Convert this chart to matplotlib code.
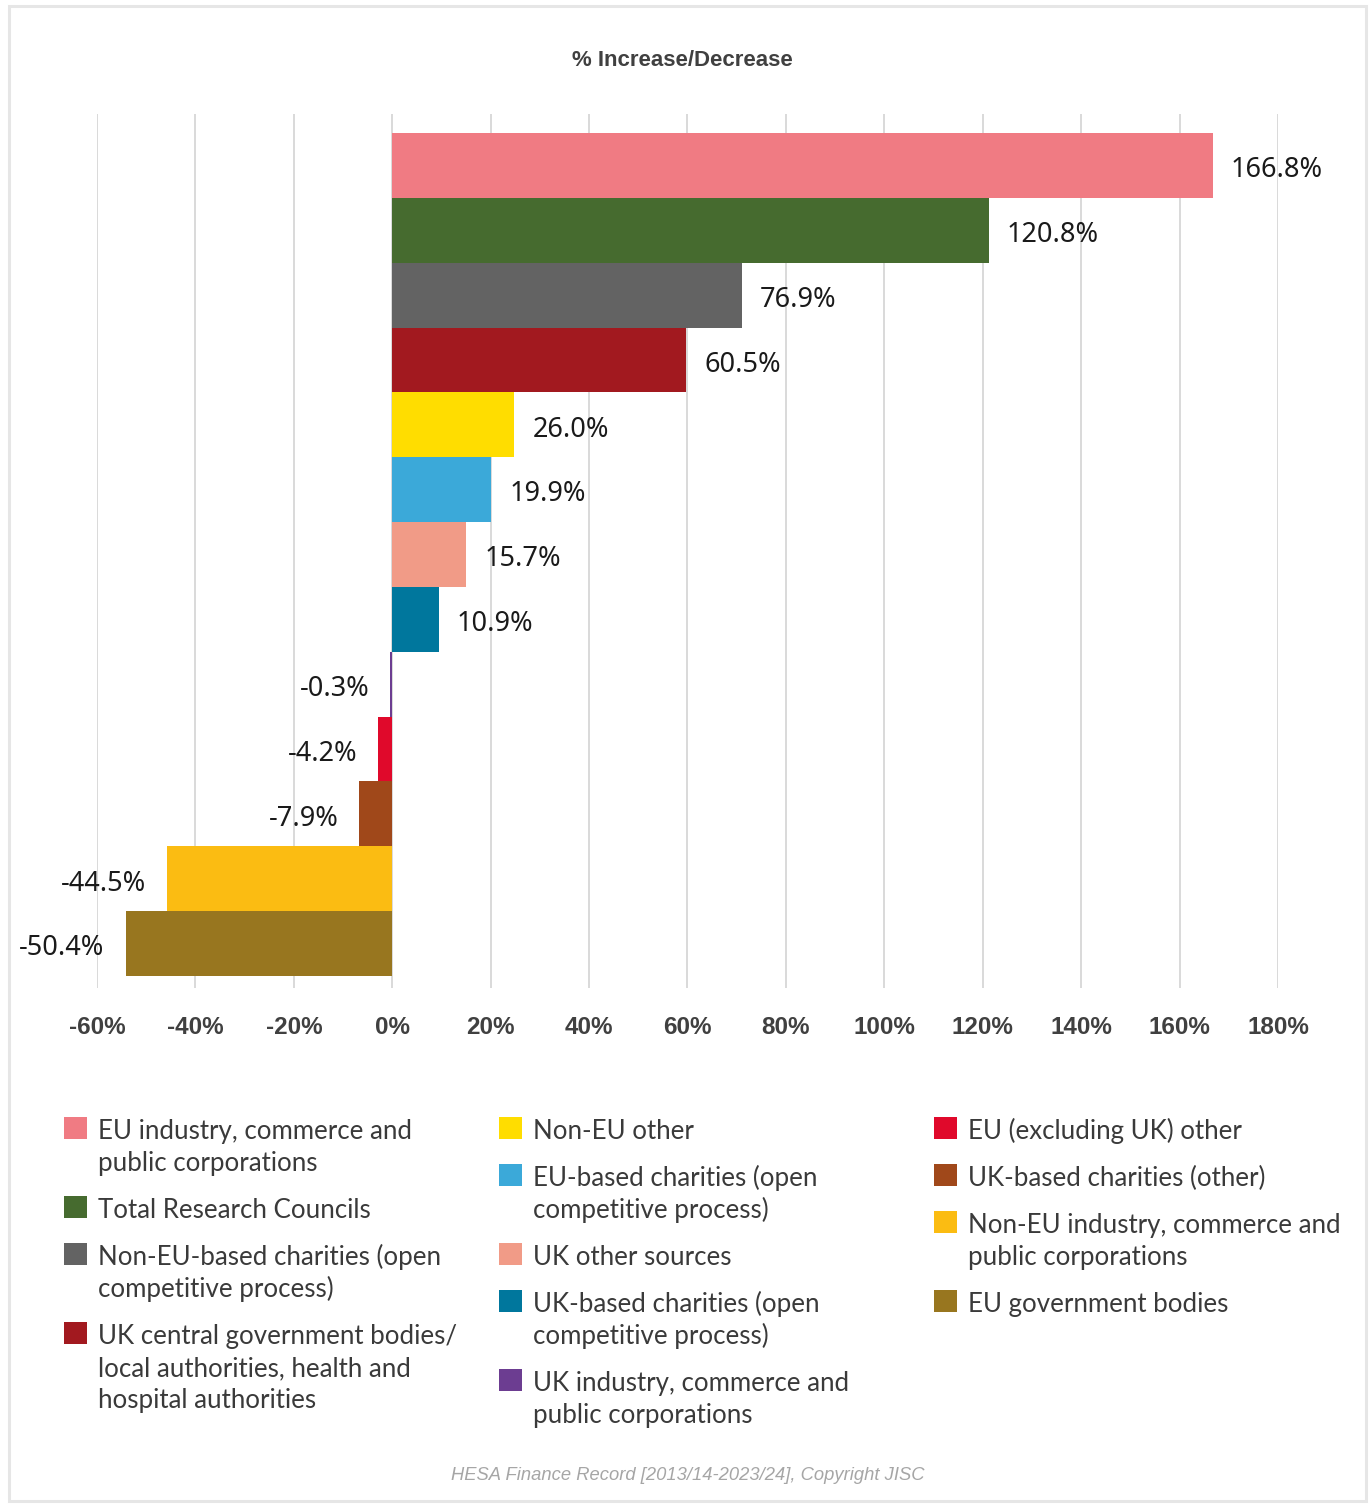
import matplotlib
matplotlib.use('Agg')
import matplotlib.pyplot as plt
from matplotlib.patches import Rectangle

# ---------------- data ----------------
categories = [
    "EU industry, commerce and\npublic corporations",
    "Total Research Councils",
    "Non-EU-based charities (open\ncompetitive process)",
    "UK central government bodies/\nlocal authorities, health and\nhospital authorities",
    "Non-EU other",
    "EU-based charities (open\ncompetitive process)",
    "UK other sources",
    "UK-based charities (open\ncompetitive process)",
    "UK industry, commerce and\npublic corporations",
    "EU (excluding UK) other",
    "UK-based charities (other)",
    "Non-EU industry, commerce and\npublic corporations",
    "EU government bodies",
]
# bar lengths as drawn in the picture
values = [166.7, 121.2, 71.1, 59.7, 24.8, 20.1, 15.0, 9.4, -0.4, -2.8, -6.7, -45.7, -54.2]
# data labels as printed
value_labels = ["166.8%", "120.8%", "76.9%", "60.5%", "26.0%", "19.9%", "15.7%",
                "10.9%", "-0.3%", "-4.2%", "-7.9%", "-44.5%", "-50.4%"]
colors = ["#F07B83", "#466B2F", "#636363", "#A2191F", "#FFDD00", "#3BA9D9", "#F19B87",
          "#00779D", "#6C3D91", "#E0092B", "#A0481A", "#FBBC12", "#98761F"]
legend_columns = [[0, 1, 2, 3], [4, 5, 6, 7, 8], [9, 10, 11, 12]]
xticks = list(range(-60, 181, 20))
title = "% Increase/Decrease"
footer = "HESA Finance Record [2013/14-2023/24], Copyright JISC"

# ---------------- layout ----------------
W, H = 1372, 1504
fig = plt.figure(figsize=(W / 100, H / 100), dpi=100)
fig.patch.set_facecolor('white')

def fx(px):
    return px / W

def fy(py):
    return 1 - py / H

ax = fig.add_axes([fx(97), fy(988), fx(1278) - fx(97), fy(114) - fy(988)])
ypos = list(range(len(values)))
ax.barh(ypos, values, height=1.0, color=colors, zorder=2, linewidth=0)
ax.set_ylim(12.5 + 0.185, -0.5 - 0.293)
ax.set_xlim(-60, 180)
ax.set_xticks(xticks)
ax.set_xticklabels([f"{t}%" for t in xticks], fontfamily='Liberation Sans',
                   fontweight='bold', fontsize=17.5, color='#404040')
ax.tick_params(axis='x', length=0, pad=20)
ax.set_yticks([])
ax.grid(axis='x', color='#d9d9d9', linewidth=1.4, zorder=0)
ax.set_axisbelow(True)
for s in ax.spines.values():
    s.set_visible(False)

for i, (v, lab) in enumerate(zip(values, value_labels)):
    if v >= 0:
        ax.annotate(lab, (v, i), xytext=(13, -8.5), textcoords='offset points',
                    ha='left', va='baseline', fontsize=19.5, family='Noto Sans',
                    color='#1a1a1a')
    else:
        ax.annotate(lab, (v, i), xytext=(-15, -8.5), textcoords='offset points',
                    ha='right', va='baseline', fontsize=19.5, family='Noto Sans',
                    color='#1a1a1a')

# title
fig.text(fx(682), fy(66), title, ha='center', va='baseline', fontsize=16,
         fontweight='bold', family='Liberation Sans', color='#404040')

# legend (manual, three columns)
col_marker_x = [64, 499, 934]
col_text_x = [98, 533, 968]
line_step = 32
entry_gap = 15
for c, idxs in enumerate(legend_columns):
    base = 1139
    for idx in idxs:
        lines = categories[idx].split("\n")
        fig.patches.append(Rectangle((fx(col_marker_x[c]), fy(base)), 23 / W, 22 / H,
                                     transform=fig.transFigure, facecolor=colors[idx],
                                     edgecolor='none'))
        for k, ln in enumerate(lines):
            fig.text(fx(col_text_x[c]), fy(base + k * line_step), ln, ha='left',
                     va='baseline', fontsize=18.6, family='Lato', color='#3a3a3a')
        base += len(lines) * line_step + entry_gap

# footer
fig.text(fx(688), fy(1480), footer, ha='center', va='baseline', fontsize=13.2,
         style='italic', family='Liberation Sans', color='#a6a6a6')

# outer frame
fig.patches.append(Rectangle((fx(9), fy(1501)), (1366 - 9) / W, (1501 - 6) / H,
                             transform=fig.transFigure, fill=False,
                             edgecolor='#e6e6e6', linewidth=2.2))

fig.savefig('out.png', dpi=100)
